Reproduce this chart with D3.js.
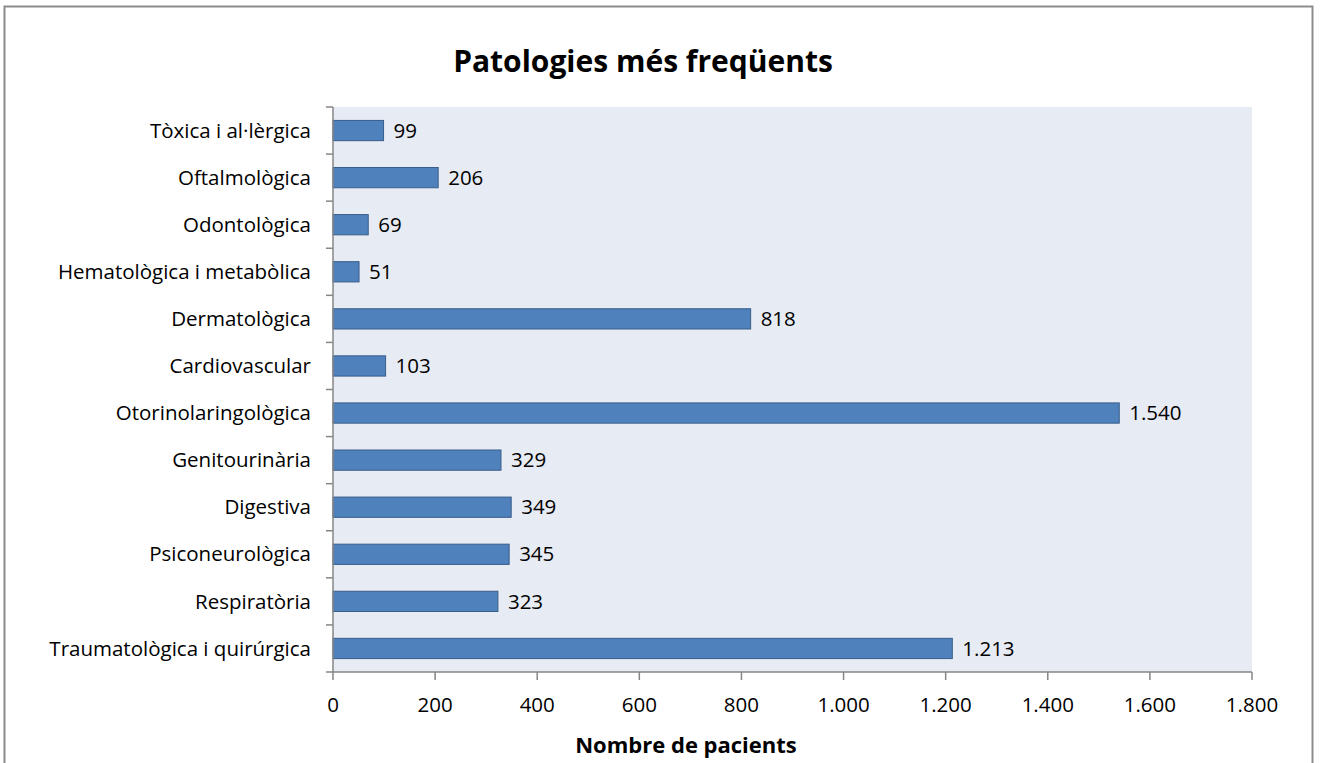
<!DOCTYPE html>
<html><head><meta charset="utf-8">
<script src="https://cdn.jsdelivr.net/npm/d3@7"></script>
<style>body{margin:0;background:#fff}svg{display:block}text{font-family:"Open Sans",sans-serif;fill:#000}</style>
</head><body><svg id="c" width="1321" height="763"></svg>
<script>
const categories = ["Tòxica i al·lèrgica","Oftalmològica","Odontològica","Hematològica i metabòlica","Dermatològica","Cardiovascular","Otorinolaringològica","Genitourinària","Digestiva","Psiconeurològica","Respiratòria","Traumatològica i quirúrgica"];
const values = [99,206,69,51,818,103,1540,329,349,345,323,1213];
const xTicks = [0,200,400,600,800,1000,1200,1400,1600,1800];
const title = "Patologies més freqüents";
const xTitle = "Nombre de pacients";

const fmt = v => d3.format(",")(v).replace(/,/g, ".");
const svg = d3.select("#c");
const L = 333, R = 1252, T = 107, B = 672;
const FS = 20.5;

svg.append("rect").attr("x",4.5).attr("y",6.5).attr("width",1308).attr("height",770)
  .attr("fill","#fff").attr("stroke","#8c8c8c").attr("stroke-width",2);

svg.append("rect").attr("x",L).attr("y",T).attr("width",R-L).attr("height",B-T).attr("fill","#E7EBF3");

const x = d3.scaleLinear().domain([0,1800]).range([L,R]);
const y = d3.scaleBand().domain(categories).range([T,B]).paddingInner(0.57).paddingOuter(0.285);
const yb = d3.scaleBand().domain(categories).range([T,B]);

svg.selectAll("rect.bar").data(values).join("rect").attr("class","bar")
  .attr("x",x(0)).attr("y",(d,i)=>y(categories[i]))
  .attr("width",d=>x(d)-x(0)).attr("height",y.bandwidth())
  .attr("fill","#4F81BD").attr("stroke","#385D8A").attr("stroke-width",1);

svg.selectAll("text.val").data(values).join("text").attr("class","val")
  .attr("x",d=>x(d)+10).attr("y",(d,i)=>y(categories[i])+y.bandwidth()/2)
  .attr("dy","0.35em").attr("font-size",FS).text(d=>fmt(d));

// y axis
const ya = svg.append("g");
ya.append("line").attr("x1",L).attr("x2",L).attr("y1",T).attr("y2",B).attr("stroke","#868686").attr("stroke-width",1.5);
const bounds = categories.map(c=>yb(c)).concat([B]);
ya.selectAll("line.t").data(bounds).join("line").attr("class","t")
  .attr("x1",L-7).attr("x2",L).attr("y1",d=>d).attr("y2",d=>d).attr("stroke","#868686").attr("stroke-width",1.5);
ya.selectAll("text").data(categories).join("text")
  .attr("x",L-22).attr("y",c=>yb(c)+yb.bandwidth()/2).attr("dy","0.35em")
  .attr("text-anchor","end").attr("font-size",FS).text(c=>c);

// x axis
const xa = svg.append("g");
xa.append("line").attr("x1",L).attr("x2",R).attr("y1",B).attr("y2",B).attr("stroke","#868686").attr("stroke-width",1.5);
xa.selectAll("line.t").data(xTicks).join("line").attr("class","t")
  .attr("x1",d=>x(d)).attr("x2",d=>x(d)).attr("y1",B).attr("y2",B+8).attr("stroke","#868686").attr("stroke-width",1.5);
xa.selectAll("text").data(xTicks).join("text")
  .attr("x",d=>x(d)).attr("y",705).attr("dy","0.35em").attr("text-anchor","middle")
  .attr("font-size",FS).text(d=>fmt(d));

svg.append("text").attr("x",643).attr("y",61).attr("dy","0.35em").attr("text-anchor","middle")
  .attr("font-size",30).attr("font-weight","bold").text(title);
svg.append("text").attr("x",686).attr("y",745).attr("dy","0.35em").attr("text-anchor","middle")
  .attr("font-size",22).attr("font-weight","bold").text(xTitle);
</script></body></html>
